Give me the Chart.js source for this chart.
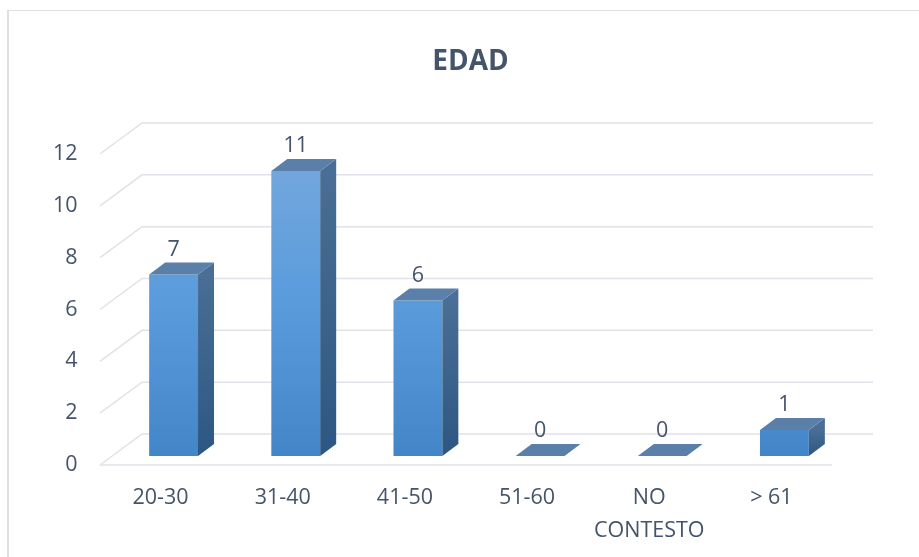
<!DOCTYPE html>
<html>
<head>
<meta charset="utf-8">
<script src="https://cdn.jsdelivr.net/npm/chart.js@4"></script>
<style>
  html, body { margin: 0; padding: 0; background: #fff; overflow: hidden; }
  #wrap { position: relative; width: 919px; height: 557px; }
  #frame { position: absolute; left: 7px; top: 10px; width: 1000px; height: 600px;
           border-left: 2px solid #dcdfe4; border-top: 1px solid #dcdfe4; pointer-events: none; }
</style>
</head>
<body>
<div id="wrap">
  <canvas id="chart" width="919" height="557"></canvas>
  <div id="frame"></div>
</div>
<script>
const chartTitle = 'EDAD';
const categories = ['20-30', '31-40', '41-50', '51-60', ['NO', 'CONTESTO'], '> 61'];
const values = [7, 11, 6, 0, 0, 1];
const yTicks = [0, 2, 4, 6, 8, 10, 12];

const textColor = '#44546a';
const gridColor = '#dfe2e8';
const labelFont = '"Open Sans"';
const depthX = 16, depthY = -12;

// title drawn a bit right of the canvas centre, like the original
const titlePlugin = {
    id: 'titleText',
    afterDraw(chart) {
        let ctx = chart.ctx;
        ctx.save();
        ctx.fillStyle = textColor;
        ctx.font = 'bold 28px ' + labelFont;
        ctx.textAlign = 'center';
        ctx.textBaseline = 'middle';
        ctx.fillText(chartTitle, chart.width / 2 + 11, 62);
        ctx.restore();
    }
};

// back wall, side wall and floor lines
const gridPlugin = {
    id: 'grid3d',
    beforeDatasetsDraw(chart) {
        let ctx = chart.ctx;
        let y = chart.scales.y;
        let area = chart.chartArea;
        ctx.save();
        ctx.strokeStyle = gridColor;
        ctx.lineWidth = 1.5;
        yTicks.forEach(v => {
            let py = y.getPixelForValue(v);
            ctx.beginPath();
            ctx.moveTo(area.left - 12.5, py + 9);
            ctx.lineTo(area.left + 29.5, py - 22);
            ctx.lineTo(area.right + 27.5, py - 22);
            ctx.stroke();
        });
        let base = y.getPixelForValue(0);
        ctx.beginPath();
        ctx.moveTo(area.left - 12.5, base + 9);
        ctx.lineTo(area.right - 13.5, base + 9);
        ctx.stroke();
        ctx.restore();
    }
};

// side and top faces plus value labels
const boxPlugin = {
    id: 'box3d',
    afterDatasetsDraw(chart) {
        let ctx = chart.ctx;
        let meta = chart.getDatasetMeta(0);
        ctx.save();
        meta.data.forEach((bar, i) => {
            let p = bar.getProps(['x', 'y', 'base', 'width'], true);
            let left = p.x - p.width / 2;
            let right = p.x + p.width / 2;
            let top = p.y, base = p.base;

            if (base - top > 0.5) {
                let g = ctx.createLinearGradient(0, top, 0, base);
                g.addColorStop(0, '#4a6e95');
                g.addColorStop(1, '#2c5782');
                ctx.fillStyle = g;
                ctx.beginPath();
                ctx.moveTo(right, top);
                ctx.lineTo(right + depthX, top + depthY);
                ctx.lineTo(right + depthX, base + depthY);
                ctx.lineTo(right, base);
                ctx.closePath();
                ctx.fill();
            }

            ctx.fillStyle = '#5a7fa8';
            ctx.beginPath();
            ctx.moveTo(left, top);
            ctx.lineTo(left + depthX, top + depthY);
            ctx.lineTo(right + depthX, top + depthY);
            ctx.lineTo(right, top);
            ctx.closePath();
            ctx.fill();

            ctx.fillStyle = textColor;
            ctx.font = '21.5px ' + labelFont;
            ctx.textAlign = 'center';
            ctx.textBaseline = 'middle';
            ctx.fillText(String(values[i]), p.x, top - 25);
        });
        ctx.restore();
    }
};

let ctx = document.getElementById('chart').getContext('2d');
let myChart = new Chart(ctx, {
    type: 'bar',
    data: {
        labels: categories,
        datasets: [{
            data: values,
            backgroundColor: function (c) {
                let area = c.chart.chartArea;
                if (!area) return '#5b9bd5';
                let g = c.chart.ctx.createLinearGradient(0, area.top, 0, area.bottom);
                g.addColorStop(0, '#76a9de');
                g.addColorStop(0.5, '#5a9bdc');
                g.addColorStop(1, '#4386c8');
                return g;
            },
            borderWidth: 0,
            barPercentage: 0.4,
            categoryPercentage: 1
        }]
    },
    options: {
        responsive: false,
        devicePixelRatio: 1,
        animation: false,
        layout: { padding: { left: 0, right: 73.5, top: 145, bottom: 0 } },
        plugins: {
            legend: { display: false },
            tooltip: { enabled: false },
            title: { display: false }
        },
        scales: {
            x: {
                grid: { display: false, drawTicks: false },
                border: { display: false },
                afterFit: s => { s.height = 101; },
                ticks: {
                    color: textColor,
                    font: { family: labelFont, size: 21.5, lineHeight: 1.5 },
                    padding: 26,
                    labelOffset: -13,
                    maxRotation: 0,
                    autoSkip: false
                }
            },
            y: {
                min: 0,
                max: 12,
                grid: { display: false, drawTicks: false },
                border: { display: false },
                afterFit: s => { s.width = 112.5; },
                ticks: {
                    stepSize: 2,
                    color: textColor,
                    font: { family: labelFont, size: 21.5 },
                    padding: 35,
                    labelOffset: 9
                }
            }
        }
    },
    plugins: [gridPlugin, boxPlugin, titlePlugin]
});
</script>
</body>
</html>
